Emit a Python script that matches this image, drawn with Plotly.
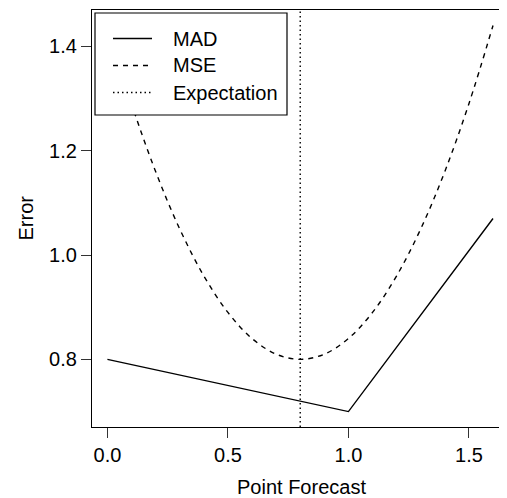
import plotly.graph_objects as go

# ---- data ----
forecast = [0.0, 0.1, 0.2, 0.3, 0.4, 0.5, 0.6, 0.7, 0.8, 0.9, 1.0, 1.1, 1.2, 1.3, 1.4, 1.5, 1.6]
mse = [1.44, 1.29, 1.16, 1.05, 0.96, 0.89, 0.84, 0.81, 0.80, 0.81, 0.84, 0.89, 0.96, 1.05, 1.16, 1.29, 1.44]
mad_x = [0.0, 1.0, 1.6]
mad = [0.80, 0.70, 1.07]
expectation = 0.8
x_ticks = [0.0, 0.5, 1.0, 1.5]
x_ticklabels = ["0.0", "0.5", "1.0", "1.5"]
y_ticks = [0.8, 1.0, 1.2, 1.4]
y_ticklabels = ["0.8", "1.0", "1.2", "1.4"]
legend_labels = ["MAD", "MSE", "Expectation"]

FONT = "Liberation Sans, Arial, Helvetica, sans-serif"
FS = 20
OFF = 8  # default page body margin
PAGE_W, PAGE_H = 507, 498
W, H = PAGE_W - OFF, PAGE_H - OFF
# plot area in page pixels: x 92..509, y 10..427
L, T = 92 - OFF, 10 - OFF
B = PAGE_H - 427
R = 0
PW, PH = W - L - R, H - T - B


def px2x(px):
    return (px - OFF - L) / PW


def py2y(py):
    return (PAGE_H - B - py) / PH


fig = go.Figure()

fig.add_trace(go.Scatter(x=mad_x, y=mad, mode="lines", name="MAD",
                         line=dict(color="black", width=1.4), showlegend=False))
fig.add_trace(go.Scatter(x=forecast, y=mse, mode="lines", name="MSE",
                         line=dict(color="black", width=1.4, dash="5px,5px", shape="spline"),
                         showlegend=False))
fig.add_vline(x=expectation, line=dict(color="black", width=1.4, dash="1.5px,3px"))

# legend box (white fill hides the curve beneath)
fig.add_shape(type="rect", xref="paper", yref="paper",
              x0=px2x(95), x1=px2x(287), y0=py2y(115), y1=py2y(13),
              line=dict(color="black", width=1.2), fillcolor="white", layer="above")
rows = [38.5, 65.5, 92.5]
dashes = ["solid", "5px,5px", "1.5px,3px"]
for lab, ry, d in zip(legend_labels, rows, dashes):
    fig.add_shape(type="line", xref="paper", yref="paper",
                  x0=px2x(113), x1=px2x(152), y0=py2y(ry), y1=py2y(ry),
                  line=dict(color="black", width=1.4, dash=d), layer="above")
    fig.add_annotation(text=lab, xref="paper", yref="paper", x=px2x(171), y=py2y(ry),
                       xanchor="left", yanchor="middle", showarrow=False,
                       font=dict(family=FONT, size=FS, color="black"))

# axis titles
fig.add_annotation(text="Point Forecast", xref="paper", yref="paper",
                   x=px2x(301), y=0, yshift=-60, xanchor="center", yanchor="middle",
                   showarrow=False, font=dict(family=FONT, size=FS, color="black"))
fig.add_annotation(text="Error", xref="paper", yref="paper",
                   x=0, xshift=-(92 - 25), y=py2y(218.5), xanchor="center", yanchor="middle",
                   textangle=-90, showarrow=False, font=dict(family=FONT, size=FS, color="black"))

fig.update_xaxes(range=[-0.064, -0.064 + PW / 241.0], tickvals=x_ticks, ticktext=x_ticklabels,
                 ticks="outside", ticklen=10, tickwidth=1, tickcolor="#333",
                 showline=True, linecolor="black", linewidth=1.2, mirror=True,
                 showgrid=False, zeroline=False,
                 tickfont=dict(family=FONT, size=FS, color="black"))
fig.update_yaxes(range=[0.6704, 1.4696], tickvals=y_ticks, ticktext=y_ticklabels,
                 ticks="outside", ticklen=10, tickwidth=1, tickcolor="#333",
                 showline=True, linecolor="black", linewidth=1.2,
                 showgrid=False, zeroline=False,
                 tickfont=dict(family=FONT, size=FS, color="black"))

fig.update_layout(width=W, height=H, margin=dict(l=L, r=R, t=T, b=B, pad=0),
                  plot_bgcolor="white", paper_bgcolor="white", showlegend=False)

fig.write_html("out.html")
